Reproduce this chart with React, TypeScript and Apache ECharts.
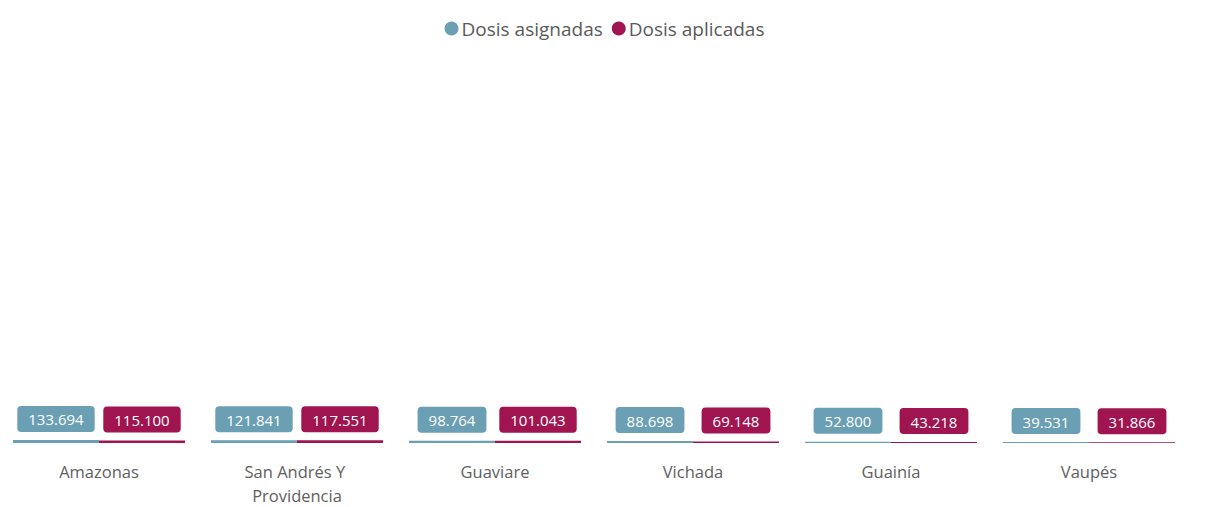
import { useEffect, useRef } from 'react';
import * as echarts from 'echarts';

const departamentos = ['Amazonas', 'San Andrés Y Providencia', 'Guaviare', 'Vichada', 'Guainía', 'Vaupés'];
const dosisAsignadas = [133694, 121841, 98764, 88698, 52800, 39531];
const dosisAplicadas = [115100, 117551, 101043, 69148, 43218, 31866];

const AZUL = '#6a9fb4';
const VINO = '#a0154f';
const FONT = '"Open Sans", "Noto Sans", sans-serif';

const fmt = (v: number) => v.toString().replace(/\B(?=(\d{3})+(?!\d))/g, '.');

export default function App() {
  const chartRef = useRef<HTMLDivElement>(null);

  useEffect(() => {
    if (!chartRef.current) return;
    const chart = echarts.init(chartRef.current, undefined, { renderer: 'svg' });

    const label = (color: string) => ({
      show: true,
      position: 'top',
      distance: 8,
      formatter: (p: any) => fmt(p.value),
      color: '#ffffff',
      fontFamily: FONT,
      fontSize: 15,
      backgroundColor: color,
      borderRadius: 4,
      padding: [6, 11, 5, 11],
    });

    chart.setOption({
      animation: false,
      textStyle: { fontFamily: FONT },
      legend: {
        top: 14,
        left: 'center',
        icon: 'circle',
        itemWidth: 14,
        itemHeight: 14,
        itemGap: 9,
        textStyle: { color: '#5a5a5a', fontSize: 19, fontFamily: FONT, padding: [0, 0, 0, -2] },
        data: ['Dosis asignadas', 'Dosis aplicadas'],
      },
      grid: { left: 0, right: 21, top: 50, bottom: 58, containLabel: false },
      xAxis: {
        type: 'category',
        data: departamentos,
        axisLine: { show: false },
        axisTick: { show: false },
        axisLabel: {
          color: '#606060',
          fontSize: 16.5,
          fontFamily: FONT,
          margin: 16,
          lineHeight: 24,
          width: 150,
          overflow: 'break',
          interval: 0,
        },
      },
      yAxis: {
        type: 'value',
        min: 0,
        max: 17500000,
        show: false,
        splitLine: { show: false },
      },
      series: [
        {
          name: 'Dosis asignadas',
          type: 'bar',
          data: dosisAsignadas,
          barWidth: 86,
          barGap: '0%',
          itemStyle: { color: AZUL },
          label: label(AZUL),
        },
        {
          name: 'Dosis aplicadas',
          type: 'bar',
          data: dosisAplicadas,
          barWidth: 86,
          itemStyle: { color: VINO },
          label: label(VINO),
        },
      ],
    });

    return () => chart.dispose();
  }, []);

  return (
    <div
      ref={chartRef}
      style={{ position: 'absolute', left: 0, top: 0, width: 1209, height: 507, background: '#ffffff' }}
    />
  );
}
